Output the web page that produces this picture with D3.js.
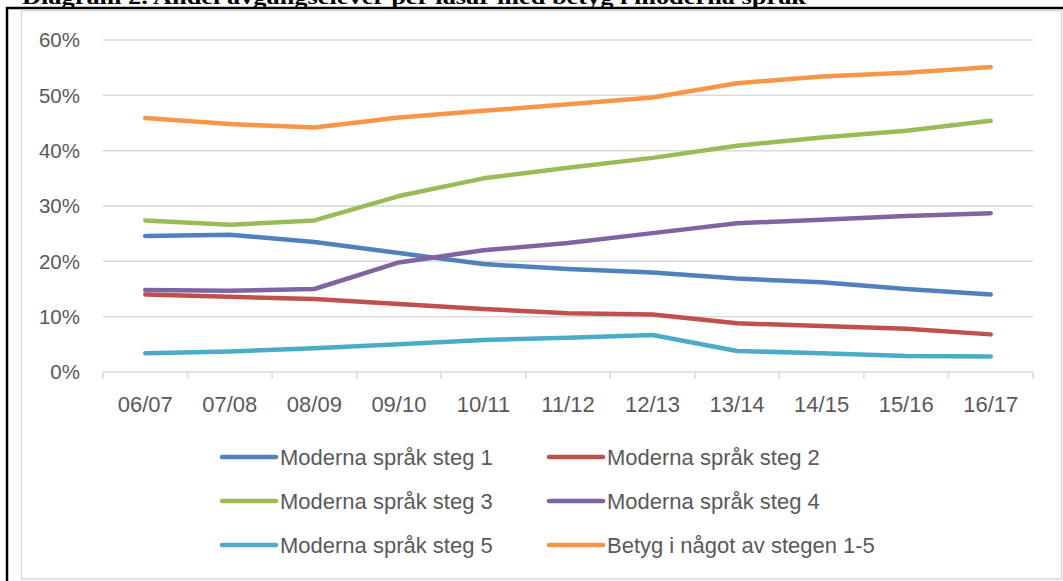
<!DOCTYPE html>
<html>
<head>
<meta charset="utf-8">
<script src="https://cdn.jsdelivr.net/npm/d3@7"></script>
<style>
  body { margin: 0; background: #fff; }
  svg { display: block; }
</style>
</head>
<body>
<svg id="chart" width="1063" height="581"></svg>
<script>
var width = 1063;
var height = 581;

var titleText = "Diagram 2. Andel avgångselever per läsår med betyg i moderna språk";
var years = ["06/07", "07/08", "08/09", "09/10", "10/11", "11/12", "12/13", "13/14", "14/15", "15/16", "16/17"];
var yTicks = [0, 0.1, 0.2, 0.3, 0.4, 0.5, 0.6];
var seriesNames = ["Moderna språk steg 1", "Moderna språk steg 2", "Moderna språk steg 3",
  "Moderna språk steg 4", "Moderna språk steg 5", "Betyg i något av stegen 1-5"];
var colors = ["#4F81BD", "#C0504D", "#9BBB59", "#8064A2", "#4BACC6", "#F79646"];

var steg1 = [0.246, 0.248, 0.235, 0.215, 0.195, 0.186, 0.180, 0.169, 0.162, 0.150, 0.140];
var steg2 = [0.140, 0.136, 0.132, 0.123, 0.114, 0.106, 0.104, 0.088, 0.083, 0.078, 0.068];
var steg3 = [0.274, 0.266, 0.274, 0.318, 0.350, 0.369, 0.387, 0.409, 0.424, 0.436, 0.454];
var steg4 = [0.148, 0.147, 0.150, 0.198, 0.220, 0.233, 0.251, 0.269, 0.275, 0.282, 0.287];
var steg5 = [0.034, 0.037, 0.043, 0.050, 0.058, 0.062, 0.067, 0.038, 0.034, 0.029, 0.028];
var betyg = [0.459, 0.448, 0.442, 0.460, 0.472, 0.484, 0.496, 0.522, 0.534, 0.541, 0.551];

var series = [steg1, steg2, steg3, steg4, steg5, betyg].map(function(vals, i) {
  return { name: seriesNames[i], color: colors[i], values: vals };
});

var svg = d3.select("#chart");

// table frame (black) and chart area border (gray)
svg.append("line").attr("x1", 6).attr("x2", width).attr("y1", 8).attr("y2", 8)
  .attr("stroke", "#000").attr("stroke-width", 2.5);
svg.append("line").attr("x1", 7).attr("x2", 7).attr("y1", 7).attr("y2", height)
  .attr("stroke", "#000").attr("stroke-width", 2.5);
svg.append("rect").attr("x", 21.5).attr("y", 10.5).attr("width", 1040).attr("height", 568.5)
  .attr("fill", "#fff").attr("stroke", "#D9D9D9").attr("stroke-width", 1.5);

// title, only its lower part shows (as in the source document)
svg.append("text")
  .attr("x", 22).attr("y", 4)
  .attr("font-family", "Liberation Serif, serif")
  .attr("font-weight", "bold")
  .attr("font-size", 22)
  .attr("textLength", 784)
  .attr("lengthAdjust", "spacingAndGlyphs")
  .text(titleText);

var x = d3.scaleBand().domain(years).range([103, 1033]);
var y = d3.scaleLinear().domain([0, 0.6]).range([372, 40]);

// gridlines
svg.append("g").selectAll("line").data(yTicks.slice(1)).enter().append("line")
  .attr("x1", 103).attr("x2", 1033)
  .attr("y1", function(d) { return y(d); }).attr("y2", function(d) { return y(d); })
  .attr("stroke", "#D9D9D9").attr("stroke-width", 1.5);

// y labels
svg.append("g").selectAll("text").data(yTicks).enter().append("text")
  .attr("x", 80).attr("y", function(d) { return y(d); })
  .attr("dy", "0.35em")
  .attr("text-anchor", "end")
  .attr("font-family", "Liberation Sans, Arial, sans-serif")
  .attr("font-size", 20.5)
  .attr("fill", "#595959")
  .text(function(d) { return d3.format(".0%")(d); });

// x axis line and ticks
svg.append("line").attr("x1", 103).attr("x2", 1033).attr("y1", y(0)).attr("y2", y(0))
  .attr("stroke", "#D9D9D9").attr("stroke-width", 1.5);
var tickPos = years.map(function(d) { return x(d); }).concat([x.range()[1]]);
svg.append("g").selectAll("line").data(tickPos).enter().append("line")
  .attr("x1", function(d) { return d; }).attr("x2", function(d) { return d; })
  .attr("y1", y(0)).attr("y2", y(0) + 7)
  .attr("stroke", "#D9D9D9").attr("stroke-width", 1.5);

svg.append("g").selectAll("text").data(years).enter().append("text")
  .attr("x", function(d) { return x(d) + x.bandwidth() / 2; })
  .attr("y", 404).attr("dy", "0.35em")
  .attr("text-anchor", "middle")
  .attr("font-family", "Liberation Sans, Arial, sans-serif")
  .attr("font-size", 22)
  .attr("fill", "#595959")
  .text(function(d) { return d; });

// lines
var line = d3.line()
  .x(function(d, i) { return x(years[i]) + x.bandwidth() / 2; })
  .y(function(d) { return y(d); });

svg.append("g").selectAll("path").data(series).enter().append("path")
  .attr("d", function(d) { return line(d.values); })
  .attr("fill", "none")
  .attr("stroke", function(d) { return d.color; })
  .attr("stroke-width", 4.5)
  .attr("stroke-linecap", "round")
  .attr("stroke-linejoin", "round");

// legend
var legend = svg.append("g").selectAll("g").data(series).enter().append("g")
  .attr("transform", function(d, i) {
    var col = i % 2, row = Math.floor(i / 2);
    return "translate(" + (col === 0 ? 222 : 549) + "," + (457 + row * 44) + ")";
  });
legend.append("line").attr("x1", 0).attr("x2", 54).attr("y1", 0).attr("y2", 0)
  .attr("stroke", function(d) { return d.color; })
  .attr("stroke-width", 4.5).attr("stroke-linecap", "round");
legend.append("text").attr("x", 58).attr("y", 0).attr("dy", "0.35em")
  .attr("font-family", "Liberation Sans, Arial, sans-serif")
  .attr("font-size", 22)
  .attr("fill", "#595959")
  .text(function(d) { return d.name; });
</script>
</body>
</html>
